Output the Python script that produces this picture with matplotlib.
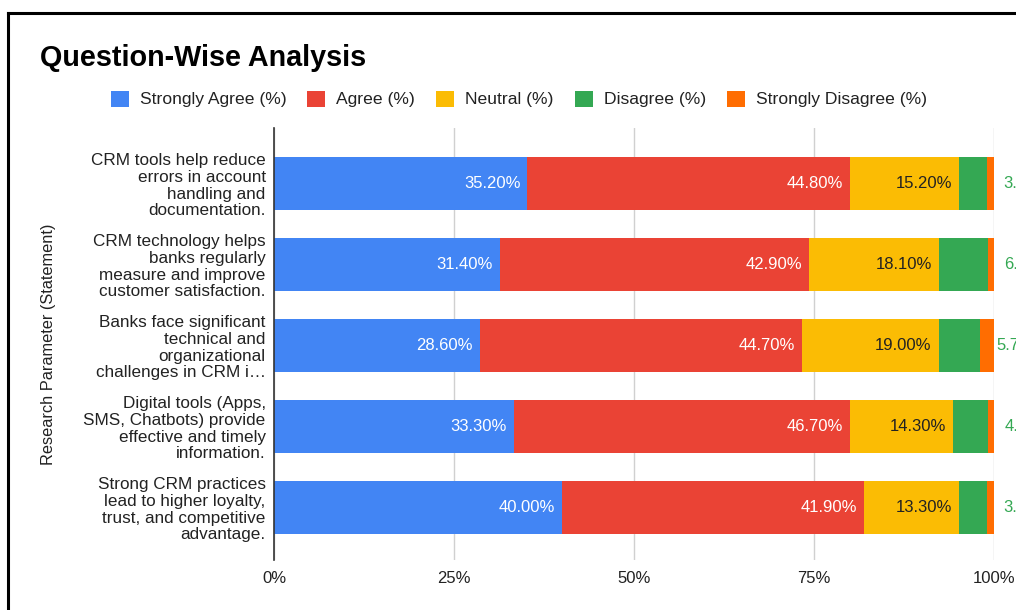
import matplotlib
matplotlib.use('Agg')
import matplotlib.pyplot as plt
from matplotlib.lines import Line2D
import numpy as np

plt.rcParams['font.family'] = ['Liberation Sans', 'DejaVu Sans']

statements = [
    'CRM tools help reduce\nerrors in account\nhandling and\ndocumentation.',
    'CRM technology helps\nbanks regularly\nmeasure and improve\ncustomer satisfaction.',
    'Banks face significant\ntechnical and\norganizational\nchallenges in CRM i\u2026',
    'Digital tools (Apps,\nSMS, Chatbots) provide\neffective and timely\ninformation.',
    'Strong CRM practices\nlead to higher loyalty,\ntrust, and competitive\nadvantage.',
]
strongly_agree = [35.2, 31.4, 28.6, 33.3, 40.0]
agree = [44.8, 42.9, 44.7, 46.7, 41.9]
neutral = [15.2, 18.1, 19.0, 14.3, 13.3]
disagree = [3.8, 6.7, 5.7, 4.8, 3.8]
strongly_disagree = [1.0, 0.9, 2.0, 0.9, 1.0]

series = ['Strongly Agree (%)', 'Agree (%)', 'Neutral (%)', 'Disagree (%)', 'Strongly Disagree (%)']
colors = ['#4285F4', '#EA4335', '#FBBC04', '#34A853', '#FF6D01']
label_colors = ['white', 'white', '#222222', None, None]
x_ticks = [0, 25, 50, 75, 100]

fig = plt.figure(figsize=(10.16, 6.10), dpi=100)
ax = fig.add_axes([274/1016, 1-560/610, 720/1016, 432/610])

y = np.arange(len(statements))
data = [strongly_agree, agree, neutral, disagree, strongly_disagree]
left = np.zeros(len(statements))
for vals, name, col, lcol in zip(data, series, colors, label_colors):
    vals = np.array(vals)
    ax.barh(y, vals, left=left, height=0.65, color=col, label=name, zorder=2)
    ends = left + vals
    if lcol is not None:
        for yi, v, e in zip(y, vals, ends):
            ax.annotate(f'{v:.2f}%', (e, yi), xytext=(-5, 0), textcoords='offset points',
                        ha='right', va='center', color=lcol, fontsize=12, zorder=3)
    elif name == 'Disagree (%)':
        # these sit outside the bar and run past the right edge, as in the screenshot
        for yi, v, e in zip(y, vals, ends):
            ax.annotate(f'{v:.2f}%', (e, yi), xytext=(12, 0), textcoords='offset points',
                        ha='left', va='center', color='#34A853', fontsize=12,
                        annotation_clip=False)
    left = ends

ax.set_xlim(0, 100)
ax.set_ylim(4.648, -0.685)
ax.set_yticks(y)
ax.set_yticklabels(statements, fontsize=12.3, color='#222222', linespacing=1.13)
ax.set_xticks(x_ticks)
ax.set_xticklabels([f'{t}%' for t in x_ticks], fontsize=12, color='#222222')
ax.tick_params(axis='y', length=0, pad=6)
ax.tick_params(axis='x', length=0, pad=8)
ax.grid(axis='x', color='#d0d0d0', linewidth=1, zorder=0)
ax.set_axisbelow(True)
for s in ['top', 'right', 'bottom']:
    ax.spines[s].set_visible(False)
ax.spines['left'].set_color('#333333')
ax.spines['left'].set_linewidth(1.2)
ax.spines['left'].set_zorder(4)
ax.set_ylabel('Research Parameter (Statement)', fontsize=11.8, color='#222222')
ax.yaxis.set_label_coords(-(274 - 56) / 720, 0.5)

fig.text(40/1016, 1-66/610, 'Question-Wise Analysis', fontsize=20.7, fontweight='bold',
         color='black', ha='left', va='baseline')

fig.legend(loc='center', bbox_to_anchor=(519/1016, 1-99/610), ncol=5, frameon=False,
           fontsize=12.6, handlelength=1.03, handleheight=1.03, handletextpad=0.63,
           columnspacing=1.2, labelcolor='#222222')

# outer frame of the screenshot
fig.add_artist(Line2D([8/1016, 1], [1-13/610, 1-13/610], color='black', linewidth=2.2,
                      transform=fig.transFigure))
fig.add_artist(Line2D([8/1016, 8/1016], [0, 1-13/610], color='black', linewidth=2.2,
                      transform=fig.transFigure))

fig.savefig('out.png', dpi=100)
